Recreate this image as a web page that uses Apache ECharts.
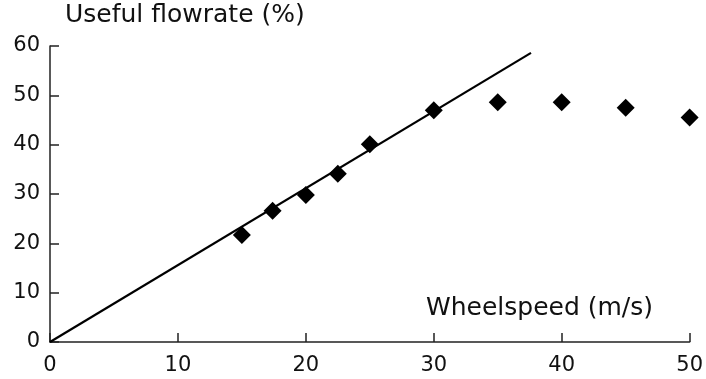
<!DOCTYPE html>
<html>
<head>
<meta charset="utf-8">
<script src="https://cdn.jsdelivr.net/npm/echarts@6/dist/echarts.min.js"></script>
<style>
    html, body { margin: 0; padding: 0; background: #fff; }
    #chart { width: 706px; height: 379px; }
</style>
</head>
<body>
<div id="chart"></div>
<script>
    // measured points
    var wheelSpeed = [15, 17.4, 20, 22.5, 25, 30, 35, 40, 45, 50];
    var flowrate = [21.7, 26.6, 29.8, 34.1, 40.1, 47.0, 48.6, 48.6, 47.5, 45.5];
    // straight line through origin
    var fitX = [0, 37.6];
    var fitY = [0, 58.6];
    var xTicks = [0, 10, 20, 30, 40, 50];
    var yTicks = [0, 10, 20, 30, 40, 50, 60];

    var font = 'DejaVu Sans';
    var axisColor = '#222';

    var chart = echarts.init(document.getElementById('chart'));

    var pts = wheelSpeed.map(function (x, i) { return [x, flowrate[i]]; });
    var fit = fitX.map(function (x, i) { return [x, fitY[i]]; });

    var option = {
        animation: false,
        title: [
            { text: 'Useful flowrate (%)', left: 65, top: 3, padding: 0,
              textStyle: { fontFamily: font, fontSize: 25, fontWeight: 'normal', color: '#111' } },
            { text: 'Wheelspeed (m/s)', left: 426, top: 296, padding: 0,
              textStyle: { fontFamily: font, fontSize: 25, fontWeight: 'normal', color: '#111' } }
        ],
        grid: { left: 50, right: 14, top: 46, bottom: 37 },
        xAxis: {
            type: 'value', min: xTicks[0], max: xTicks[xTicks.length - 1], interval: 10,
            splitLine: { show: false },
            axisLine: { lineStyle: { color: axisColor, width: 1.5 } },
            axisTick: { show: true, inside: true, length: 9, lineStyle: { color: axisColor, width: 1.5 } },
            axisLabel: { margin: 13, fontFamily: font, fontSize: 21, color: '#111' }
        },
        yAxis: {
            type: 'value', min: yTicks[0], max: yTicks[yTicks.length - 1], interval: 10,
            splitLine: { show: false },
            axisLine: { show: true, lineStyle: { color: axisColor, width: 1.5 } },
            axisTick: { show: true, inside: true, length: 9, lineStyle: { color: axisColor, width: 1.5 } },
            axisLabel: { margin: 10, fontFamily: font, fontSize: 21, color: '#111' }
        },
        series: [
            {
                type: 'line', data: fit, showSymbol: false, symbol: 'none',
                lineStyle: { color: '#000', width: 2.2 }, z: 2
            },
            {
                type: 'scatter', data: pts, symbol: 'diamond', symbolSize: 18,
                itemStyle: { color: '#000', opacity: 1 }, z: 3
            }
        ]
    };
    chart.setOption(option);
</script>
</body>
</html>
